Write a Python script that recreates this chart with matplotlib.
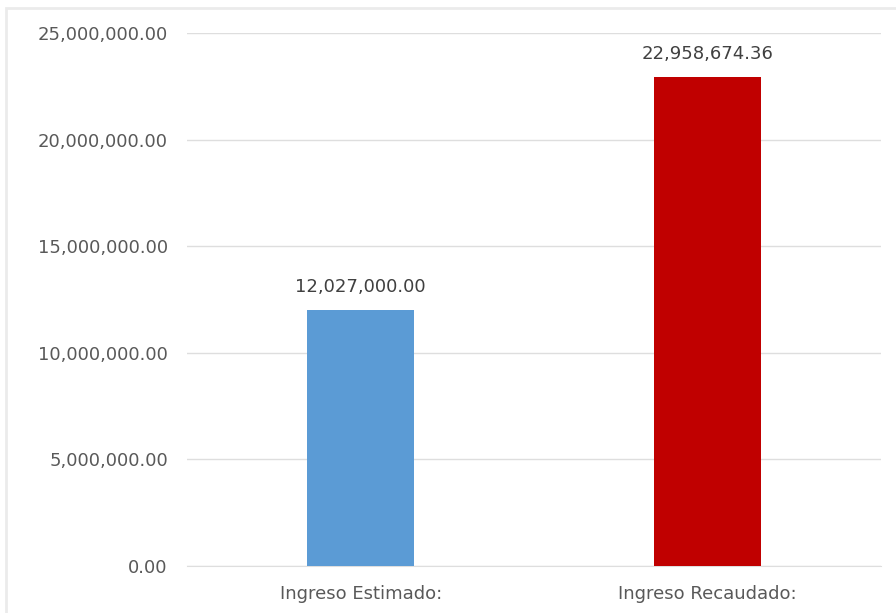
import matplotlib as mpl
mpl.use('Agg')
import matplotlib.pyplot as plt
from matplotlib.patches import Rectangle
from matplotlib.ticker import FuncFormatter

categories = ['Ingreso Estimado:', 'Ingreso Recaudado:']
values = [12027000.00, 22958674.36]
colors = ['#5B9BD5', '#C00000']
yticks = [0, 5000000, 10000000, 15000000, 20000000, 25000000]

plt.rcParams['font.family'] = ['DejaVu Sans']

fig = plt.figure(figsize=(8.96, 6.13), dpi=100)
# faint chart frame, as in the pasted screenshot
fig.patches.append(Rectangle((0.007, -0.01), 1.0, 0.997, transform=fig.transFigure,
                             fill=False, edgecolor='#EBEBEB', linewidth=2))
ax = fig.add_axes([0.209, 0.077, 0.774, 0.869])

x = range(len(categories))
bars = ax.bar(x, values, width=0.31, color=colors, zorder=3)
for b, v in zip(bars, values):
    ax.text(b.get_x() + b.get_width() / 2, v + 650000, '{:,.2f}'.format(v),
            ha='center', va='bottom', fontsize=13, color='#404040')

ax.set_xlim(-0.5, 1.5)
ax.set_ylim(0, 25000000)
ax.set_yticks(yticks)
ax.yaxis.set_major_formatter(FuncFormatter(lambda v, p: '{:,.2f}'.format(v)))
ax.set_xticks(list(x))
ax.set_xticklabels(categories)
ax.grid(axis='y', color='#DEDEDE', linewidth=1, zorder=0)
for s in ['top', 'right', 'left']:
    ax.spines[s].set_visible(False)
ax.spines['bottom'].set_color('#DEDEDE')
ax.tick_params(axis='y', length=0, labelsize=13, colors='#595959', pad=14)
ax.tick_params(axis='x', length=0, labelsize=13, colors='#595959', pad=14)

plt.savefig('out.png', dpi=100)
plt.close()
